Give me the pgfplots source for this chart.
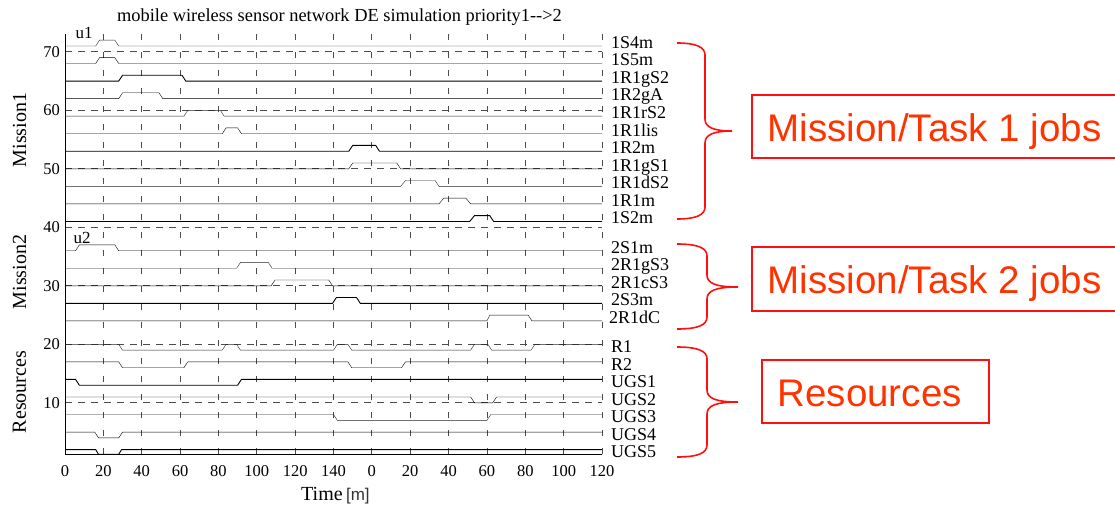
\documentclass[border=0pt]{standalone}
\usepackage{fontspec}
\setmainfont{Liberation Serif}
\setsansfont{Liberation Sans}
\usepackage{pgfplots}
\pgfplotsset{compat=1.18}
\definecolor{bracered}{HTML}{FF1010}
\definecolor{boxtext}{HTML}{FF3300}
\newcommand\lab{\fontsize{18}{20}\selectfont}
\newcommand\tickfont{\fontsize{16.5}{18}\selectfont}
% brace: #1 x of ends, #2 x of straight part, #3 x of tip, #4 y top, #5 y tip, #6 y bottom (pixels, y down)
\newcommand\redbrace[6]{%
  \draw[bracered, line width=1.6pt]
    (#1,-#4) .. controls (#2-9,-#4) and (#2,-#4-4) .. (#2,-#4-12)
    -- (#2,-#5+12) .. controls (#2,-#5+4) and (#2+8,-#5) .. (#3,-#5)
    .. controls (#2+8,-#5) and (#2,-#5-4) .. (#2,-#5-12)
    -- (#2,-#6+12) .. controls (#2,-#6+4) and (#2-9,-#6) .. (#1,-#6);}
\begin{document}
\begin{tikzpicture}
\useasboundingbox (0pt,0pt) rectangle (1115pt,-506pt);
\begin{axis}[
  at={(65pt,-454.3pt)}, anchor=south west,
  scale only axis, width=537pt, height=420pt,
  xmin=0, xmax=280, ymin=1.2, ymax=73,
  axis x line*=bottom, axis y line*=left,
  axis line style={-, line width=0.9pt, black},
  xtick={0,20,...,280},
  xticklabels={0,20,40,60,80,100,120,140,0,20,40,60,80,100,120},
  ytick={10,20,...,70},
  grid=major,
  major x grid style={dash pattern=on 6pt off 12pt, black!70, line width=0.8pt},
  major y grid style={dash pattern=on 7pt off 6pt, black!70, line width=0.8pt},
  major tick length=0pt,
  tick label style={font=\tickfont},
  /pgf/number format/assume math mode=true,
  xticklabel style={anchor=north, inner sep=0pt, yshift=-11pt},
  yticklabel style={anchor=east, inner sep=0pt, xshift=-5pt},
  clip=false,
  cycle list={{black!85, solid, line width=0.9pt, mark=none}},
]
% Mission 1 jobs
\addplot coordinates {(0,71)(16,71)(18,72)(26,72)(28,71)(280,71)};
\addplot coordinates {(0,68)(16,68)(18,69)(26,69)(28,68)(280,68)};
\addplot coordinates {(0,65)(28,65)(30,66)(61,66)(63,65)(280,65)};
\addplot coordinates {(0,62)(28,62)(30,63)(49,63)(51,62)(280,62)};
\addplot coordinates {(0,59)(62,59)(64,60)(81,60)(83,59)(280,59)};
\addplot coordinates {(0,56)(82,56)(84,57)(90,57)(92,56)(280,56)};
\addplot coordinates {(0,53)(148,53)(150,54)(162,54)(164,53)(280,53)};
\addplot coordinates {(0,50)(148,50)(150,51)(173,51)(175,50)(280,50)};
\addplot coordinates {(0,47)(175,47)(177.5,48)(193,48)(195,47)(280,47)};
\addplot coordinates {(0,44)(195,44)(197.5,45)(209,45)(211.5,44)(280,44)};
\addplot coordinates {(0,41)(211,41)(213.5,42)(221.5,42)(223.5,41)(280,41)};
% Mission 2 jobs
\addplot coordinates {(0,36)(5.5,36)(7.5,37)(26,37)(28,36)(280,36)};
\addplot coordinates {(0,33)(89.5,33)(91.5,34)(106,34)(108,33)(280,33)};
\addplot coordinates {(0,30)(107.5,30)(109.5,31)(137.5,31)(139.5,30)(280,30)};
\addplot coordinates {(0,27)(139.5,27)(141.5,28)(152,28)(154,27)(280,27)};
\addplot coordinates {(0,24)(220,24)(221.5,25)(241.5,25)(243.5,24)(280,24)};
% Resources
\addplot coordinates {(0,20)(28,20)(30,19)(82,19)(84,20)(89.5,20)(91.5,19)(140,19)(142,20)(147.5,20)(149.5,19)(211.5,19)(213.5,20)(220.5,20)(222.5,19)(243,19)(245,20)(280,20)};
\addplot coordinates {(0,17)(28,17)(30,16)(62,16)(64,17)(147.5,17)(149.5,16)(175.5,16)(177.5,17)(280,17)};
\addplot coordinates {(0,14)(5.5,14)(7.5,13)(90,13)(92,14)(280,14)};
\addplot coordinates {(0,11)(211.5,11)(213.5,10)(223,10)(225,11)(280,11)};
\addplot coordinates {(0,8)(140,8)(142,7)(220,7)(222,8)(280,8)};
\addplot coordinates {(0,5)(15.5,5)(17.5,4)(28,4)(30,5)(280,5)};
\addplot coordinates {(0,2)(16,2)(17.5,1.2)(28,1.2)(29.5,2)(280,2)};
% signal names
\begin{scope}[every node/.style={anchor=base west, inner sep=0pt, xshift=9pt, font=\lab}]
\node at (axis cs:280,70.6) {1S4m};
\node at (axis cs:280,67.6) {1S5m};
\node at (axis cs:280,64.6) {1R1gS2};
\node at (axis cs:280,61.6) {1R2gA};
\node at (axis cs:280,58.6) {1R1rS2};
\node at (axis cs:280,55.6) {1R1lis};
\node at (axis cs:280,52.6) {1R2m};
\node at (axis cs:280,49.6) {1R1gS1};
\node at (axis cs:280,46.6) {1R1dS2};
\node at (axis cs:280,43.6) {1R1m};
\node at (axis cs:280,40.6) {1S2m};
\node at (axis cs:280,35.6) {2S1m};
\node at (axis cs:280,32.6) {2R1gS3};
\node at (axis cs:280,29.6) {2R1cS3};
\node at (axis cs:280,26.6) {2S3m};
\node[xshift=-2pt] at (axis cs:280,23.6) {2R1dC};
\node at (axis cs:280,18.6) {R1};
\node at (axis cs:280,15.6) {R2};
\node at (axis cs:280,12.6) {UGS1};
\node at (axis cs:280,9.6) {UGS2};
\node at (axis cs:280,6.6) {UGS3};
\node at (axis cs:280,3.6) {UGS4};
\node at (axis cs:280,0.6) {UGS5};
\end{scope}
\end{axis}
\begin{scope}[x=1pt, y=1pt]
% title, axis labels, markers
\node[anchor=base, inner sep=0pt, font=\fontsize{18.4}{20}\selectfont] at (339.5,-21)
  {mobile wireless sensor network DE simulation priority1-{}->2};
\node[anchor=base, inner sep=0pt, font=\fontsize{17}{19}\selectfont] at (84,-38) {u1};
\node[anchor=base, inner sep=0pt, font=\fontsize{17}{19}\selectfont] at (82,-243) {u2};
\node[rotate=90, inner sep=0pt, font=\fontsize{20}{22}\selectfont] at (19.5,-130) {Mission1};
\node[rotate=90, inner sep=0pt, font=\fontsize{20}{22}\selectfont] at (19.5,-272) {Mission2};
\node[rotate=90, inner sep=0pt, font=\fontsize{20}{22}\selectfont] at (19.5,-392) {Resources};
\node[anchor=base west, inner sep=0pt, font=\fontsize{20}{22}\selectfont] at (301,-500)
  {Time\,{\sffamily\fontsize{17}{19}\selectfont\color{black!80}[m]}};
% braces and boxes
\redbrace{677}{705}{732}{43}{131}{219}
\redbrace{677}{707}{738}{244}{287}{329}
\redbrace{677}{707}{738}{347}{402}{457}
\begin{scope}[bracered, line width=2pt]
\draw (1125,-95) -- (752,-95) -- (752,-158) -- (1125,-158);
\draw (1125,-247) -- (752,-247) -- (752,-311) -- (1125,-311);
\draw (762,-360) rectangle (989,-423);
\end{scope}
\begin{scope}[every node/.style={anchor=base west, inner sep=0pt, text=boxtext, font=\sffamily\fontsize{38.5}{40}\selectfont}]
\node at (767.5,-141.7) {Mission/Task 1 jobs};
\node at (767.5,-293.3) {Mission/Task 2 jobs};
\node at (777.5,-406) {Resources};
\end{scope}
\end{scope}
\end{tikzpicture}
\end{document}
